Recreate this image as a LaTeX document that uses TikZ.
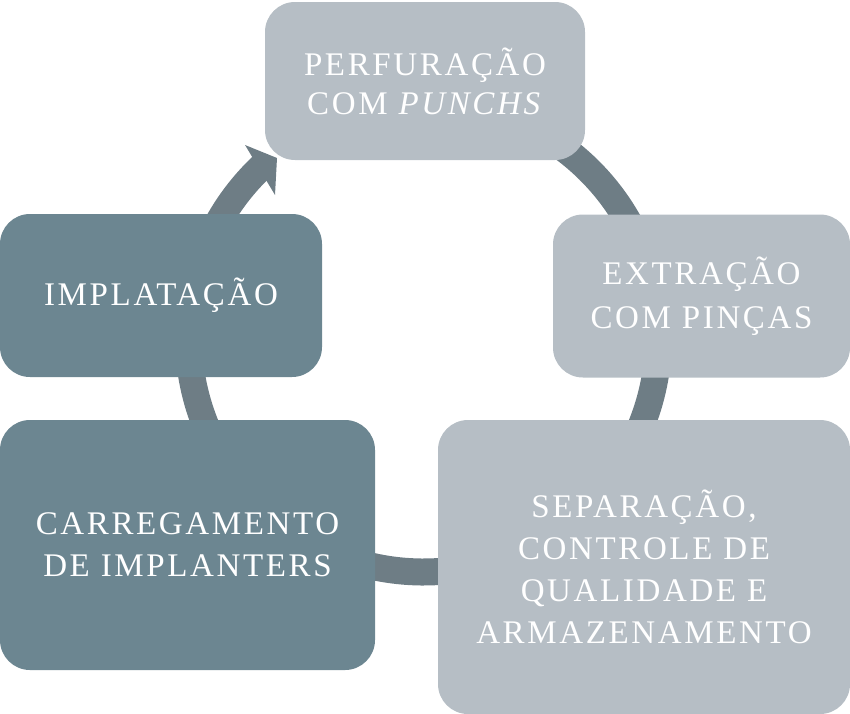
\documentclass[tikz,border=0pt]{standalone}
\usepackage{fontspec}
\newfontfamily\boxfont{Liberation Serif}[LetterSpace=8]
\definecolor{lightbox}{HTML}{B6BEC5}
\definecolor{darkbox}{HTML}{6C8691}
\definecolor{bandcol}{HTML}{6E7D85}
\begin{document}
\begin{tikzpicture}[x=1pt,y=1pt,
  box/.style={rounded corners=30pt, inner sep=0pt, align=center, text=white,
    font=\boxfont\fontsize{33}{42}\selectfont},
  lightstep/.style={box, fill=lightbox},
  darkstep/.style={box, fill=darkbox},
  band/.style={draw=bandcol, line width=27pt, line cap=butt}]
\useasboundingbox (0,0) rectangle (850,-713);
\coordinate (cc) at (423.5,-337);
% circular band behind the steps
\draw[band] ([shift={(133:235)}]cc) arc[start angle=133, end angle=450, radius=235];
\coordinate (hA) at (245,-145);
\coordinate (hT) at (277,-158);
\coordinate (hB) at (275,-195);
\fill[bandcol] (hA) -- (hT) -- (hB) -- cycle;
% steps
\node[lightstep, minimum width=320pt, minimum height=158pt,
  font=\boxfont\fontsize{33}{39}\selectfont] (b1) at (425,-81)
  {PERFURAÇÃO\\COM \textit{PUNCHS}};
\node[lightstep, minimum width=297pt, minimum height=163pt,
  font=\boxfont\fontsize{33}{44}\selectfont] (b2) at (701.5,-296)
  {EXTRAÇÃO\\COM PINÇAS};
\node[lightstep, minimum width=412pt, minimum height=294pt] (b3) at (644,-567)
  {SEPARAÇÃO,\\CONTROLE DE\\QUALIDADE E\\ARMAZENAMENTO};
\node[darkstep, minimum width=375pt, minimum height=250pt] (b4) at (187.5,-545)
  {CARREGAMENTO\\DE IMPLANTERS};
\node[darkstep, minimum width=322pt, minimum height=163pt] (b5) at (161,-295.5)
  {IMPLATAÇÃO};
\end{tikzpicture}
\end{document}
